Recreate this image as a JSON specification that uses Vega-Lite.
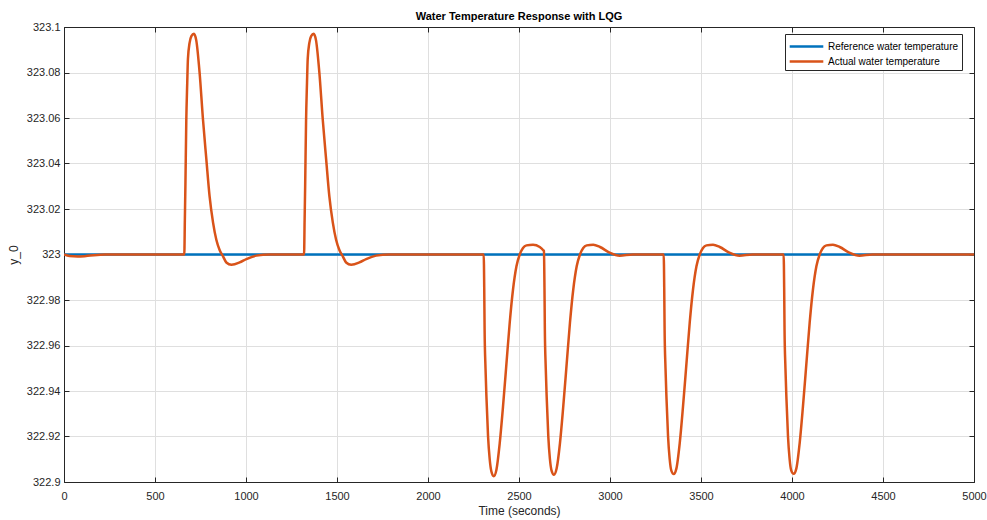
{
  "$schema": "https://vega.github.io/schema/vega-lite/v6.json",
  "autosize": {"type": "none"},
  "padding": {"left": 64, "top": 27, "right": 13, "bottom": 38},
  "width": 910,
  "height": 455,
  "background": "white",
  "title": {"text": "Water Temperature Response with LQG", "fontSize": 11, "fontWeight": "bold", "font": "Liberation Sans", "color": "#000000", "offset": -1, "anchor": "middle"},
  "config": {
    "view": {"stroke": "#262626", "strokeWidth": 1},
    "axis": {"labelFont": "Liberation Sans", "labelFontSize": 11, "labelColor": "#262626", "titleFont": "Liberation Sans", "titleFontSize": 12, "titleFontWeight": "normal", "titleColor": "#262626", "domainColor": "#262626", "tickColor": "#262626", "gridColor": "#dfdfdf", "gridWidth": 1},
    "legend": {"labelFont": "Liberation Sans", "labelFontSize": 10, "labelColor": "#000000"}
  },
  "datasets": {
    "ref": [
      {"t": 0, "v": 323.0, "s": "Reference water temperature"},
      {"t": 5000, "v": 323.0, "s": "Reference water temperature"}
    ],
    "act": [
      {"t": 0, "v": 323.0, "s": "Actual water temperature"},
      {"t": 30, "v": 322.9993, "s": "Actual water temperature"},
      {"t": 75, "v": 322.9991, "s": "Actual water temperature"},
      {"t": 130, "v": 322.9994, "s": "Actual water temperature"},
      {"t": 225, "v": 323.0, "s": "Actual water temperature"},
      {"t": 661, "v": 323.0, "s": "Actual water temperature"},
      {"t": 664, "v": 323.015, "s": "Actual water temperature"},
      {"t": 667, "v": 323.03, "s": "Actual water temperature"},
      {"t": 672, "v": 323.059, "s": "Actual water temperature"},
      {"t": 677, "v": 323.075, "s": "Actual water temperature"},
      {"t": 681, "v": 323.086, "s": "Actual water temperature"},
      {"t": 690, "v": 323.093, "s": "Actual water temperature"},
      {"t": 700, "v": 323.096, "s": "Actual water temperature"},
      {"t": 714, "v": 323.097, "s": "Actual water temperature"},
      {"t": 727, "v": 323.094, "s": "Actual water temperature"},
      {"t": 745, "v": 323.08, "s": "Actual water temperature"},
      {"t": 764, "v": 323.059, "s": "Actual water temperature"},
      {"t": 782, "v": 323.042, "s": "Actual water temperature"},
      {"t": 800, "v": 323.0255, "s": "Actual water temperature"},
      {"t": 819, "v": 323.014, "s": "Actual water temperature"},
      {"t": 837, "v": 323.0065, "s": "Actual water temperature"},
      {"t": 855, "v": 323.002, "s": "Actual water temperature"},
      {"t": 874, "v": 322.9992, "s": "Actual water temperature"},
      {"t": 892, "v": 322.9965, "s": "Actual water temperature"},
      {"t": 920, "v": 322.9955, "s": "Actual water temperature"},
      {"t": 965, "v": 322.9965, "s": "Actual water temperature"},
      {"t": 1002, "v": 322.998, "s": "Actual water temperature"},
      {"t": 1057, "v": 322.9995, "s": "Actual water temperature"},
      {"t": 1130, "v": 323.0, "s": "Actual water temperature"},
      {"t": 1319, "v": 323.0, "s": "Actual water temperature"},
      {"t": 1322, "v": 323.015, "s": "Actual water temperature"},
      {"t": 1325, "v": 323.03, "s": "Actual water temperature"},
      {"t": 1330, "v": 323.059, "s": "Actual water temperature"},
      {"t": 1335, "v": 323.075, "s": "Actual water temperature"},
      {"t": 1339, "v": 323.086, "s": "Actual water temperature"},
      {"t": 1348, "v": 323.093, "s": "Actual water temperature"},
      {"t": 1358, "v": 323.096, "s": "Actual water temperature"},
      {"t": 1372, "v": 323.097, "s": "Actual water temperature"},
      {"t": 1385, "v": 323.094, "s": "Actual water temperature"},
      {"t": 1403, "v": 323.08, "s": "Actual water temperature"},
      {"t": 1422, "v": 323.059, "s": "Actual water temperature"},
      {"t": 1440, "v": 323.042, "s": "Actual water temperature"},
      {"t": 1458, "v": 323.0255, "s": "Actual water temperature"},
      {"t": 1477, "v": 323.014, "s": "Actual water temperature"},
      {"t": 1495, "v": 323.0065, "s": "Actual water temperature"},
      {"t": 1513, "v": 323.002, "s": "Actual water temperature"},
      {"t": 1532, "v": 322.9992, "s": "Actual water temperature"},
      {"t": 1550, "v": 322.9965, "s": "Actual water temperature"},
      {"t": 1578, "v": 322.9955, "s": "Actual water temperature"},
      {"t": 1623, "v": 322.9965, "s": "Actual water temperature"},
      {"t": 1660, "v": 322.998, "s": "Actual water temperature"},
      {"t": 1715, "v": 322.9995, "s": "Actual water temperature"},
      {"t": 1788, "v": 323.0, "s": "Actual water temperature"},
      {"t": 2306, "v": 323.0, "s": "Actual water temperature"},
      {"t": 2309, "v": 322.985, "s": "Actual water temperature"},
      {"t": 2311, "v": 322.967, "s": "Actual water temperature"},
      {"t": 2316, "v": 322.95, "s": "Actual water temperature"},
      {"t": 2321, "v": 322.9376, "s": "Actual water temperature"},
      {"t": 2330, "v": 322.92, "s": "Actual water temperature"},
      {"t": 2339, "v": 322.91, "s": "Actual water temperature"},
      {"t": 2348, "v": 322.9047, "s": "Actual water temperature"},
      {"t": 2361, "v": 322.9025, "s": "Actual water temperature"},
      {"t": 2376, "v": 322.9054, "s": "Actual water temperature"},
      {"t": 2394, "v": 322.917, "s": "Actual water temperature"},
      {"t": 2412, "v": 322.933, "s": "Actual water temperature"},
      {"t": 2431, "v": 322.952, "s": "Actual water temperature"},
      {"t": 2449, "v": 322.97, "s": "Actual water temperature"},
      {"t": 2467, "v": 322.9845, "s": "Actual water temperature"},
      {"t": 2486, "v": 322.9948, "s": "Actual water temperature"},
      {"t": 2504, "v": 323.0, "s": "Actual water temperature"},
      {"t": 2522, "v": 323.0029, "s": "Actual water temperature"},
      {"t": 2541, "v": 323.004, "s": "Actual water temperature"},
      {"t": 2577, "v": 323.0043, "s": "Actual water temperature"},
      {"t": 2614, "v": 323.0033, "s": "Actual water temperature"},
      {"t": 2632, "v": 323.002, "s": "Actual water temperature"},
      {"t": 2637, "v": 323.0015, "s": "Actual water temperature"},
      {"t": 2640, "v": 322.985, "s": "Actual water temperature"},
      {"t": 2642, "v": 322.967, "s": "Actual water temperature"},
      {"t": 2647, "v": 322.95, "s": "Actual water temperature"},
      {"t": 2652, "v": 322.9376, "s": "Actual water temperature"},
      {"t": 2661, "v": 322.92, "s": "Actual water temperature"},
      {"t": 2670, "v": 322.91, "s": "Actual water temperature"},
      {"t": 2679, "v": 322.905, "s": "Actual water temperature"},
      {"t": 2692, "v": 322.9032, "s": "Actual water temperature"},
      {"t": 2707, "v": 322.906, "s": "Actual water temperature"},
      {"t": 2725, "v": 322.917, "s": "Actual water temperature"},
      {"t": 2743, "v": 322.933, "s": "Actual water temperature"},
      {"t": 2762, "v": 322.952, "s": "Actual water temperature"},
      {"t": 2780, "v": 322.97, "s": "Actual water temperature"},
      {"t": 2798, "v": 322.9845, "s": "Actual water temperature"},
      {"t": 2817, "v": 322.9948, "s": "Actual water temperature"},
      {"t": 2835, "v": 323.0, "s": "Actual water temperature"},
      {"t": 2853, "v": 323.0029, "s": "Actual water temperature"},
      {"t": 2872, "v": 323.004, "s": "Actual water temperature"},
      {"t": 2908, "v": 323.0043, "s": "Actual water temperature"},
      {"t": 2945, "v": 323.0033, "s": "Actual water temperature"},
      {"t": 2998, "v": 323.0008, "s": "Actual water temperature"},
      {"t": 3053, "v": 322.9995, "s": "Actual water temperature"},
      {"t": 3125, "v": 323.0, "s": "Actual water temperature"},
      {"t": 3295, "v": 323.0, "s": "Actual water temperature"},
      {"t": 3298, "v": 322.985, "s": "Actual water temperature"},
      {"t": 3300, "v": 322.967, "s": "Actual water temperature"},
      {"t": 3305, "v": 322.95, "s": "Actual water temperature"},
      {"t": 3310, "v": 322.9376, "s": "Actual water temperature"},
      {"t": 3319, "v": 322.92, "s": "Actual water temperature"},
      {"t": 3328, "v": 322.91, "s": "Actual water temperature"},
      {"t": 3337, "v": 322.905, "s": "Actual water temperature"},
      {"t": 3350, "v": 322.9035, "s": "Actual water temperature"},
      {"t": 3365, "v": 322.906, "s": "Actual water temperature"},
      {"t": 3383, "v": 322.917, "s": "Actual water temperature"},
      {"t": 3401, "v": 322.933, "s": "Actual water temperature"},
      {"t": 3420, "v": 322.952, "s": "Actual water temperature"},
      {"t": 3438, "v": 322.97, "s": "Actual water temperature"},
      {"t": 3456, "v": 322.9845, "s": "Actual water temperature"},
      {"t": 3475, "v": 322.9948, "s": "Actual water temperature"},
      {"t": 3493, "v": 323.0, "s": "Actual water temperature"},
      {"t": 3511, "v": 323.0029, "s": "Actual water temperature"},
      {"t": 3530, "v": 323.004, "s": "Actual water temperature"},
      {"t": 3566, "v": 323.0043, "s": "Actual water temperature"},
      {"t": 3603, "v": 323.0033, "s": "Actual water temperature"},
      {"t": 3656, "v": 323.0008, "s": "Actual water temperature"},
      {"t": 3711, "v": 322.9995, "s": "Actual water temperature"},
      {"t": 3783, "v": 323.0, "s": "Actual water temperature"},
      {"t": 3954, "v": 323.0, "s": "Actual water temperature"},
      {"t": 3957, "v": 322.985, "s": "Actual water temperature"},
      {"t": 3959, "v": 322.967, "s": "Actual water temperature"},
      {"t": 3964, "v": 322.95, "s": "Actual water temperature"},
      {"t": 3969, "v": 322.9376, "s": "Actual water temperature"},
      {"t": 3978, "v": 322.92, "s": "Actual water temperature"},
      {"t": 3987, "v": 322.91, "s": "Actual water temperature"},
      {"t": 3996, "v": 322.905, "s": "Actual water temperature"},
      {"t": 4009, "v": 322.9036, "s": "Actual water temperature"},
      {"t": 4024, "v": 322.906, "s": "Actual water temperature"},
      {"t": 4042, "v": 322.917, "s": "Actual water temperature"},
      {"t": 4060, "v": 322.933, "s": "Actual water temperature"},
      {"t": 4079, "v": 322.952, "s": "Actual water temperature"},
      {"t": 4097, "v": 322.97, "s": "Actual water temperature"},
      {"t": 4115, "v": 322.9845, "s": "Actual water temperature"},
      {"t": 4134, "v": 322.9948, "s": "Actual water temperature"},
      {"t": 4152, "v": 323.0, "s": "Actual water temperature"},
      {"t": 4170, "v": 323.0029, "s": "Actual water temperature"},
      {"t": 4189, "v": 323.004, "s": "Actual water temperature"},
      {"t": 4225, "v": 323.0043, "s": "Actual water temperature"},
      {"t": 4262, "v": 323.0033, "s": "Actual water temperature"},
      {"t": 4315, "v": 323.0008, "s": "Actual water temperature"},
      {"t": 4370, "v": 322.9995, "s": "Actual water temperature"},
      {"t": 4442, "v": 323.0, "s": "Actual water temperature"},
      {"t": 5000, "v": 323.0, "s": "Actual water temperature"}
    ]
  },
  "layer": [
    {
      "data": {"name": "ref"},
      "mark": {"type": "line", "strokeWidth": 2.5, "clip": true},
      "encoding": {
        "x": {"field": "t", "type": "quantitative", "scale": {"domain": [0, 5000], "nice": false, "zero": false},
              "axis": {"orient": "bottom", "title": "Time (seconds)", "values": [0, 500, 1000, 1500, 2000, 2500, 3000, 3500, 4000, 4500, 5000], "format": "d", "tickSize": -5, "labelPadding": 13, "titlePadding": 4, "grid": true, "labelFlush": false}},
        "y": {"field": "v", "type": "quantitative", "scale": {"domain": [322.9, 323.1], "nice": false, "zero": false},
              "axis": {"orient": "left", "title": "y_0", "values": [322.9, 322.92, 322.94, 322.96, 322.98, 323, 323.02, 323.04, 323.06, 323.08, 323.1], "format": "~g", "tickSize": -5, "labelPadding": 9, "titlePadding": 6, "grid": true}},
        "color": {"field": "s", "type": "nominal",
                  "scale": {"domain": ["Reference water temperature", "Actual water temperature"], "range": ["#0072BD", "#D95319"]},
                  "legend": {"title": null, "orient": "none", "legendX": 721, "legendY": 7, "symbolType": "M-2.1,0H2.1", "symbolSize": 256, "symbolStrokeWidth": 2.5, "symbolOffset": 9, "labelOffset": 12, "padding": 3, "rowPadding": 0, "strokeColor": "#262626", "fillColor": "white", "cornerRadius": 0}}
      }
    },
    {
      "data": {"name": "act"},
      "mark": {"type": "line", "strokeWidth": 2.5, "interpolate": "monotone", "clip": true},
      "encoding": {
        "x": {"field": "t", "type": "quantitative",
              "axis": {"orient": "top", "title": null, "labels": false, "values": [0, 500, 1000, 1500, 2000, 2500, 3000, 3500, 4000, 4500, 5000], "tickSize": -5, "grid": false}},
        "y": {"field": "v", "type": "quantitative",
              "axis": {"orient": "right", "title": null, "labels": false, "values": [322.9, 322.92, 322.94, 322.96, 322.98, 323, 323.02, 323.04, 323.06, 323.08, 323.1], "tickSize": -5, "grid": false}},
        "color": {"field": "s", "type": "nominal"}
      }
    }
  ],
  "resolve": {"axis": {"x": "independent", "y": "independent"}}
}
